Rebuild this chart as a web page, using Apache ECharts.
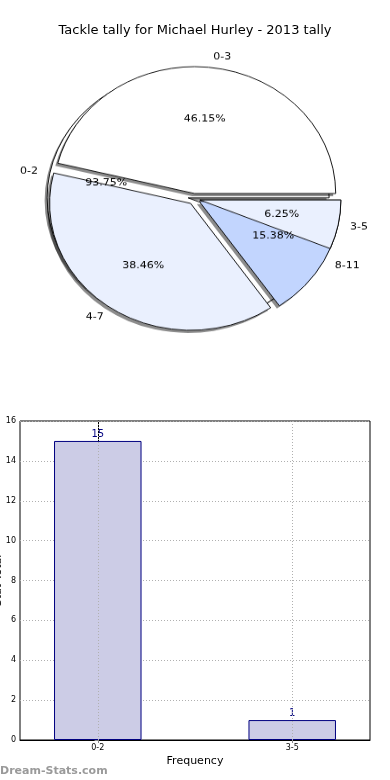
<!DOCTYPE html>
<html>
<head>
<meta charset="utf-8">
<script src="https://cdn.jsdelivr.net/npm/echarts@6/dist/echarts.min.js"></script>
<style>
  html, body { margin: 0; padding: 0; background: #ffffff; }
  #main { position: absolute; left: 0; top: 0; width: 390px; height: 780px; }
  #pie { position: absolute; left: 0; top: 0; width: 390px; height: 440px;
         transform: scaleY(0.9); transform-origin: 0 0; }
</style>
</head>
<body>
<div id="main"></div>
<div id="pie"></div>
<script>
// ---- data ----
const chartTitle = 'Tackle tally for Michael Hurley - 2013 tally';
const pie1Names = ['0-2', '3-5'];
const pie1Values = [15, 1];
const pie2Names = ['0-3', '4-7', '8-11'];
const pie2Values = [6, 5, 2];
const sliceColors = ['#ffffff', '#eaf0fe', '#c2d5fe'];
const barCategories = ['0-2', '3-5'];
const barValues = [15, 1];
const yMin = 0, yMax = 16, yStep = 2;
const xAxisName = 'Frequency';
const yAxisName = 'Stat Total';
const watermark = 'Dream-Stats.com';

const FONT = 'DejaVu Sans';

// ---- pie chart (elliptical via vertical scale of container) ----
const pieCenter = [194, 221];
const pieR = 141;
const explode = 6;

const HIDDEN = { color: 'rgba(0,0,0,0)', borderWidth: 0, shadowBlur: 0, shadowColor: 'rgba(0,0,0,0)' };

function styleFor(kind, i) {
  if (kind === 'hidden') return HIDDEN;
  if (kind === 'shadow') {
    return { color: sliceColors[i], borderWidth: 0, shadowColor: 'rgba(0,0,0,0.45)',
             shadowBlur: 0, shadowOffsetX: -2.5, shadowOffsetY: 3 };
  }
  return { color: sliceColors[i], borderColor: '#000000', borderWidth: 0.9 };
}

function makeData(names, values, kindFn) {
  return names.map((n, i) => {
    const st = styleFor(kindFn(i), i);
    return { name: n, value: values[i], selected: true, itemStyle: st, select: { itemStyle: st } };
  });
}

function pctFormatter(values) {
  const total = values.reduce((a, b) => a + b, 0);
  return (p) => (p.value / total * 100).toFixed(2) + '%';
}

const outerLabel = {
  show: true, position: 'outer', alignTo: 'none',
  fontFamily: FONT, fontSize: 11, color: '#000000'
};
const outerLine = { show: false, length: 12, length2: -5 };
const noLabel = { show: false };

function basePie(extra) {
  return Object.assign({
    type: 'pie',
    center: pieCenter,
    radius: [0, pieR],
    startAngle: 0,
    clockwise: false,
    selectedMode: 'multiple',
    selectedOffset: explode,
    avoidLabelOverlap: false,
    animation: false,
    emphasis: { disabled: true },
    silent: true,
    label: noLabel,
    labelLine: { show: false }
  }, extra);
}

const pctRadius = [20, pieR];
const pieOption = {
  animation: false,
  series: [
    basePie({ z: 1, data: makeData(pie1Names, pie1Values, () => 'shadow') }),
    basePie({ z: 2, data: makeData(pie1Names, pie1Values, () => 'normal'),
              label: outerLabel, labelLine: outerLine }),
    basePie({ z: 3, data: makeData(pie2Names, pie2Values, () => 'shadow') }),
    basePie({ z: 4, data: makeData(pie2Names, pie2Values, () => 'normal'),
              label: outerLabel, labelLine: outerLine }),
    basePie({ z: 5, data: makeData(pie1Names, pie1Values, (i) => i === 1 ? 'normal' : 'hidden') }),
    basePie({
      z: 6, radius: pctRadius,
      data: makeData(pie1Names, pie1Values, () => 'hidden'),
      label: { show: true, position: 'inside', formatter: pctFormatter(pie1Values), fontFamily: FONT, fontSize: 11, color: '#000000' }
    }),
    basePie({
      z: 6, radius: pctRadius,
      data: makeData(pie2Names, pie2Values, () => 'hidden'),
      label: { show: true, position: 'inside', formatter: pctFormatter(pie2Values), fontFamily: FONT, fontSize: 11, color: '#000000' }
    })
  ]
};

// ---- main chart: title + bar chart ----
const gridLeft = 20, gridTop = 421, gridW = 350, gridH = 319;
const mainOption = {
  animation: false,
  title: {
    text: chartTitle, left: 'center', top: 19,
    textStyle: { fontFamily: FONT, fontSize: 13, fontWeight: 'normal', color: '#000000' }
  },
  graphic: [{
    type: 'text', left: 0, top: 766,
    style: { text: watermark, fontFamily: FONT, fontSize: 11, fontWeight: 'bold', fill: '#9a9a9a' }
  }],
  grid: {
    left: gridLeft, top: gridTop, width: gridW, height: gridH,
    outerBoundsMode: 'none', containLabel: false,
    show: true, borderColor: '#000000', borderWidth: 1, backgroundColor: 'transparent'
  },
  xAxis: [{
    type: 'value', min: -0.4, max: 1.4,
    name: xAxisName, nameLocation: 'middle', nameGap: 16, nameMoveOverlap: false,
    nameTextStyle: { fontFamily: FONT, fontSize: 11, color: '#000000' },
    axisLine: { show: true, lineStyle: { color: '#000000' } },
    axisTick: { show: true, inside: false, length: 3, customValues: [0, 1], lineStyle: { color: '#000000' } },
    axisLabel: {
      customValues: [0, 1], fontFamily: FONT, fontSize: 8, color: '#000000', margin: 4,
      formatter: (v) => barCategories[Math.round(v)] || ''
    },
    splitLine: { show: false }
  }, {
    type: 'value', min: -0.4, max: 1.4, position: 'top',
    axisLine: { show: false },
    axisTick: { show: true, inside: true, length: 3, customValues: [0, 1], lineStyle: { color: '#888888' } },
    axisLabel: { show: false },
    splitLine: { show: false }
  }],
  yAxis: [{
    type: 'value', min: yMin, max: yMax, interval: yStep,
    name: yAxisName, nameLocation: 'middle', nameGap: 16, nameRotate: 90, nameMoveOverlap: false,
    nameTextStyle: { fontFamily: FONT, fontSize: 11, color: '#000000' },
    axisLine: { show: true, lineStyle: { color: '#000000' } },
    axisTick: { show: true, inside: false, length: 3, lineStyle: { color: '#888888' } },
    axisLabel: { fontFamily: FONT, fontSize: 8, color: '#000000', margin: 4 },
    splitLine: { show: true, lineStyle: { color: '#b0b0b0', type: [1, 2], width: 1 } }
  }, {
    type: 'value', min: yMin, max: yMax, interval: yStep, position: 'right',
    axisLine: { show: false },
    axisTick: { show: true, inside: true, length: 3, lineStyle: { color: '#888888' } },
    axisLabel: { show: false },
    splitLine: { show: false }
  }],
  series: [{
    type: 'bar',
    xAxisIndex: 0, yAxisIndex: 0,
    data: barValues.map((v, i) => [i, v]),
    barWidth: 87.5,
    itemStyle: { color: '#cccce6', borderColor: '#000080', borderWidth: 1 },
    label: { show: true, position: 'top', distance: 2, fontFamily: FONT, fontSize: 10, color: '#000080' },
    markLine: {
      silent: true, symbol: ['none', 'none'], animation: false,
      label: { show: false },
      lineStyle: { color: '#b0b0b0', type: [1, 2], width: 1 },
      data: barCategories.map((c, i) => ({ xAxis: i }))
    }
  }]
};

const mainChart = echarts.init(document.getElementById('main'), null, { renderer: 'canvas' });
mainChart.setOption(mainOption);
const pieChart = echarts.init(document.getElementById('pie'), null, { renderer: 'canvas' });
pieChart.setOption(pieOption);
</script>
</body>
</html>
